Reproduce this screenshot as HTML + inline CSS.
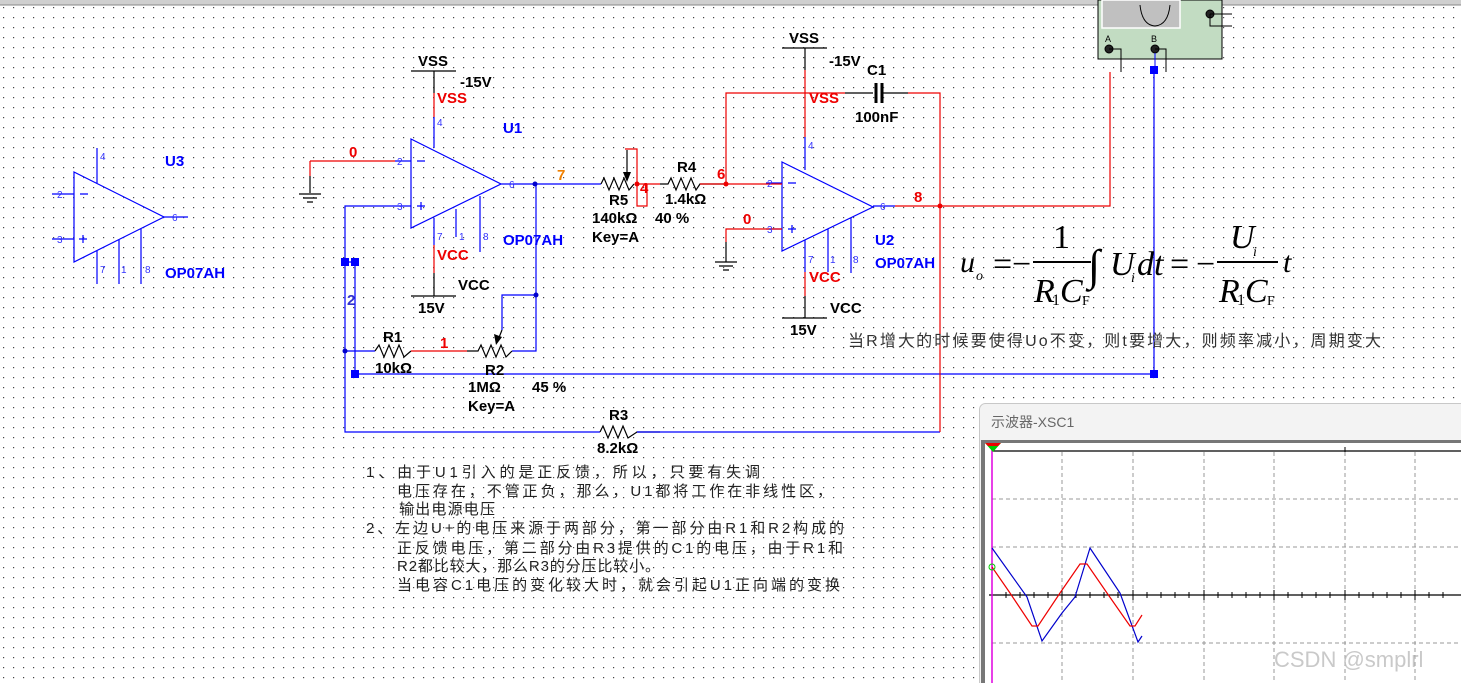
<!DOCTYPE html>
<html><head><meta charset="utf-8"><style>
body{margin:0;width:1461px;height:683px;overflow:hidden;background:#fff}
svg{display:block}
text{font-family:"Liberation Sans","Noto Sans CJK SC",sans-serif}
.b{font-weight:bold;font-size:15px}
.f text{font-family:"Liberation Serif",serif;font-style:italic}
.f .n{font-style:normal}
</style></head><body>
<svg width="1461" height="683" viewBox="0 0 1461 683" xmlns="http://www.w3.org/2000/svg">
<defs><pattern id="g" width="10" height="10" patternUnits="userSpaceOnUse" x="3" y="7"><rect x="0" y="0" width="1.2" height="1.2" fill="#444"/></pattern></defs>
<rect width="1461" height="683" fill="url(#g)"/>
<rect x="0" y="0" width="1461" height="5" fill="#cfcfcf"/><line x1="0" y1="5" x2="1461" y2="5" stroke="#888"/>

<!-- U3 -->
<g stroke="#00f" fill="none" stroke-width="1.2">
<path d="M74 172 L164 217 L74 262 Z"/>
<path d="M52 194H74M52 239H74M164 217H188M97 148V183M97 251V284M119 240V284M141 229V284M80 194H88M79 239H87M83 235V243"/>
</g>
<g fill="#33f" font-size="10"><text x="57" y="198">2</text><text x="57" y="243">3</text><text x="100" y="160">4</text><text x="172" y="221">6</text><text x="100" y="273">7</text><text x="121" y="273">1</text><text x="145" y="273">8</text></g>
<text x="165" y="166" class="b" fill="#00f">U3</text><text x="165" y="278" class="b" fill="#00f">OP07AH</text>

<!-- U1 -->
<g fill="none" stroke-width="1.2">
<path stroke="#00f" d="M411 139 L501 184 L411 228 Z M395 161H411 M395 206H411 M417 161H425 M417 206H425 M421 202V210 M434 117V148 M434 218V245 M456 209V237 M480 196V252 M501 184H601"/>
<path stroke="#000" d="M411 71H456 M434 71V93 M434 273V296 M411 296H456"/>
<path stroke="#e00" d="M434 93V117 M434 245V273 M310 161H395 M310 161V176"/>
<path stroke="#000" d="M310 176V193 M299 194H321 M303 198H317 M307 202H313"/>
<path stroke="#000" d="M601 184 L604 178 L609 190 L614 178 L619 190 L624 178 L629 190 L634 184 M627 150V176"/>
<path fill="#000" stroke="none" d="M627 182 L623 172 L631 172 Z"/>
<path stroke="#e00" d="M625 149H637V206H647V184H637 M637 184H660"/>
<path stroke="#000" d="M660 184 L668 184 L671 178 L676 190 L681 178 L686 190 L691 178 L696 190 L700 184 H726"/>
<path stroke="#00f" d="M395 206H345V432H600 M345 262H355 M355 262V374H1154V70 M345 351H375 M536 184V351H512 M536 295H502V330"/>
<path stroke="#000" d="M375 351L379 345L384 357L389 345L394 357L399 345L404 357L411 351 M467 351H478L481 345L486 357L491 345L496 357L501 345L506 357L512 351 M600 432L603 426L608 438L613 426L618 438L623 426L628 438L637 432H660 M502 330L498 340"/>
<path fill="#000" stroke="none" d="M496 345L494 334L502 337Z"/>
<path stroke="#e00" d="M411 351H467"/>
<path stroke="#00f" d="M637 432H940"/>
</g>
<g fill="#00f"><rect x="341" y="258" width="8" height="8"/><rect x="351" y="258" width="8" height="8"/><rect x="351" y="370" width="8" height="8"/><rect x="1150" y="370" width="8" height="8"/><rect x="1150" y="66" width="8" height="8"/></g>
<g fill="#00c"><circle cx="535" cy="184" r="2.5"/><circle cx="536" cy="295" r="2.5"/><circle cx="345" cy="351" r="2.5"/></g>
<circle cx="637" cy="184" r="2.5" fill="#e00"/>
<g fill="#33f" font-size="10"><text x="397" y="165">2</text><text x="397" y="210">3</text><text x="437" y="126">4</text><text x="509" y="188">6</text><text x="437" y="240">7</text><text x="459" y="240">1</text><text x="483" y="240">8</text></g>
<g class="b" fill="#000"><text x="418" y="66">VSS</text><text x="460" y="87">-15V</text><text x="458" y="290">VCC</text><text x="418" y="313">15V</text>
<text x="609" y="205">R5</text><text x="592" y="223">140kΩ</text><text x="655" y="223">40 %</text><text x="592" y="242">Key=A</text>
<text x="677" y="172">R4</text><text x="665" y="204">1.4kΩ</text>
<text x="383" y="342">R1</text><text x="375" y="373">10kΩ</text><text x="485" y="375">R2</text><text x="468" y="392">1MΩ</text><text x="532" y="392">45 %</text><text x="468" y="411">Key=A</text>
<text x="609" y="420">R3</text><text x="597" y="453">8.2kΩ</text></g>
<g class="b" fill="#e00"><text x="437" y="103">VSS</text><text x="437" y="260">VCC</text><text x="349" y="157">0</text><text x="640" y="193">4</text><text x="440" y="348">1</text></g>
<text x="557" y="180" class="b" fill="#f08000">7</text>
<text x="347" y="305" class="b" fill="#33c">2</text>
<text x="503" y="133" class="b" fill="#00f">U1</text><text x="503" y="245" class="b" fill="#00f">OP07AH</text>

<!-- U2 -->
<g fill="none" stroke-width="1.2">
<path stroke="#00f" d="M782 162 L873 207 L782 251 Z M766 183H782 M766 229H782 M788 183H796 M788 229H796 M792 225V233 M805 137V170 M805 240V272 M828 229V272 M851 218V273 M873 206H895"/>
<path stroke="#000" d="M782 48H827 M805 48V70 M805 296V318 M782 318H827 M845 93H873 M882 93H908 M726 242V262 M715 262H737 M719 266H733 M723 270H729"/>
<path stroke="#000" stroke-width="3" d="M876 83V103 M882 83V103"/>
<path stroke="#e00" d="M805 70V137 M805 272V296 M700 184H782 M726 184V93H845 M908 93H940V432 M895 206H1110V72 M782 229H726V242"/>
</g>
<g fill="#e00"><circle cx="726" cy="184" r="2.5"/><circle cx="940" cy="206" r="2.5"/></g>
<g fill="#33f" font-size="10"><text x="767" y="187">2</text><text x="767" y="233">3</text><text x="808" y="149">4</text><text x="880" y="210">6</text><text x="808" y="263">7</text><text x="830" y="263">1</text><text x="853" y="263">8</text></g>
<g class="b" fill="#000"><text x="789" y="43">VSS</text><text x="829" y="66">-15V</text><text x="867" y="75">C1</text><text x="855" y="122">100nF</text><text x="830" y="313">VCC</text><text x="790" y="335">15V</text></g>
<g class="b" fill="#e00"><text x="809" y="103">VSS</text><text x="809" y="282">VCC</text><text x="717" y="179">6</text><text x="743" y="224">0</text><text x="914" y="202">8</text></g>
<text x="875" y="245" class="b" fill="#00f">U2</text><text x="875" y="268" class="b" fill="#00f">OP07AH</text>

<!-- oscilloscope icon -->
<rect x="1098" y="0" width="124" height="59" fill="#c2dcc2" stroke="#000"/>
<rect x="1102" y="0" width="78" height="28" fill="#c0c0c0" stroke="#fff" stroke-width="1.5"/>
<path d="M1140 5 Q1142 25 1155 26 Q1168 25 1170 5" fill="none" stroke="#000"/>
<g fill="#000" font-size="9"><text x="1105" y="42">A</text><text x="1151" y="42">B</text></g>
<g fill="none" stroke="#000"><circle cx="1109" cy="49" r="4" fill="#222"/><circle cx="1155" cy="49" r="4" fill="#222"/><circle cx="1210" cy="14" r="4" fill="#222"/>
<path d="M1109 49H1121V72 M1155 49H1166V72 M1210 14H1232 M1210 14V26H1232"/></g>
<path d="M1155 53V70" stroke="#00f"/>

<!-- formula -->
<g class="f" fill="#000">
<text x="960" y="272" font-size="30">u</text><text x="976" y="280" font-size="14">o</text>
<text x="993" y="275" font-size="34" class="n">=</text><text x="1012" y="275" font-size="34" class="n">−</text>
<text x="1053" y="248" font-size="34" class="n">1</text>
<line x1="1033" y1="262" x2="1091" y2="262" stroke="#000" stroke-width="2"/>
<text x="1034" y="302" font-size="34">R</text><text x="1052" y="305" font-size="16" class="n">1</text><text x="1060" y="302" font-size="34">C</text><text x="1082" y="305" font-size="14" class="n">F</text>
<text x="1088" y="280" font-size="44" class="n">∫</text>
<text x="1110" y="275" font-size="34">U</text><text x="1131" y="282" font-size="14">i</text><text x="1137" y="275" font-size="34">dt</text>
<text x="1170" y="275" font-size="34" class="n">=</text><text x="1196" y="275" font-size="34" class="n">−</text>
<text x="1230" y="248" font-size="34">U</text><text x="1253" y="256" font-size="14">i</text>
<line x1="1217" y1="262" x2="1278" y2="262" stroke="#000" stroke-width="2"/>
<text x="1219" y="302" font-size="34">R</text><text x="1237" y="305" font-size="16" class="n">1</text><text x="1245" y="302" font-size="34">C</text><text x="1267" y="305" font-size="14" class="n">F</text>
<text x="1283" y="272" font-size="30">t</text>
</g>
<text x="848" y="346" font-size="16" fill="#333" textLength="533" lengthAdjust="spacing">当R增大的时候要使得Uo不变，则t要增大，则频率减小，周期变大</text>

<g font-size="15" fill="#222">
<text x="366" y="477" textLength="394" lengthAdjust="spacing">1、由于U1引入的是正反馈，所以，只要有失调</text>
<text x="397" y="496" textLength="435" lengthAdjust="spacing">电压存在，不管正负，那么，U1都将工作在非线性区，</text>
<text x="399" y="514" textLength="96" lengthAdjust="spacing">输出电源电压</text>
<text x="366" y="533" textLength="478" lengthAdjust="spacing">2、左边U+的电压来源于两部分，第一部分由R1和R2构成的</text>
<text x="397" y="553" textLength="446" lengthAdjust="spacing">正反馈电压，第二部分由R3提供的C1的电压，由于R1和</text>
<text x="397" y="571" textLength="263" lengthAdjust="spacing">R2都比较大，那么R3的分压比较小。</text>
<text x="397" y="590" textLength="443" lengthAdjust="spacing">当电容C1电压的变化较大时，就会引起U1正向端的变换</text>
</g>

<!-- scope window -->
<rect x="979.5" y="403.5" width="490" height="290" rx="6" fill="#f3f3f3" stroke="#c8c8c8"/>
<text x="991" y="427" font-size="14" fill="#666">示波器-XSC1</text>
<rect x="981" y="440" width="480" height="243" fill="#777"/>
<rect x="985" y="443" width="476" height="240" fill="#fff"/>
<g stroke="#999" stroke-dasharray="4,3" fill="none">
<path d="M1062 452V683M1133 452V683M1204 452V683M1274 452V683M1345 452V683M1415 452V683M992 499H1461M992 547H1461M992 643H1461"/>
</g>
<path d="M992 451H1461M989 595H1461" stroke="#000" stroke-width="1.2"/>
<path d="M1006 592V598M1020 592V598M1034 592V598M1048 592V598M1062 590V600M1076 592V598M1090 592V598M1104 592V598M1118 592V598M1133 590V600M1147 592V598M1161 592V598M1175 592V598M1189 592V598M1204 590V600M1218 592V598M1232 592V598M1246 592V598M1260 592V598M1274 590V600M1288 592V598M1302 592V598M1316 592V598M1330 592V598M1345 590V600M1359 592V598M1373 592V598M1387 592V598M1401 592V598M1415 590V600M1429 592V598M1443 592V598M1345 447V452" stroke="#000"/>
<line x1="992" y1="443" x2="992" y2="683" stroke="#e000e0" stroke-width="1.5"/>
<path d="M985 443H1001L993 452Z" fill="#0c0"/><path d="M985 443H1001L998 446H988Z" fill="#e00"/>
<polyline points="992,548 1027,597 1042,641 1062,613 1075,597 1090,548 1120,593 1138,642 1142,636" fill="none" stroke="#00c" stroke-width="1.2"/>
<polyline points="992,567 1010,593 1032,626 1038,626 1060,593 1080,564 1087,564 1107,593 1130,626 1135,626 1142,615" fill="none" stroke="#e00" stroke-width="1.2"/>
<circle cx="992" cy="567" r="3" fill="none" stroke="#0c0"/>
<text x="1274" y="667" font-size="22" fill="#bbb" fill-opacity="0.8">CSDN @smplrl</text>
</svg>
</body></html>
